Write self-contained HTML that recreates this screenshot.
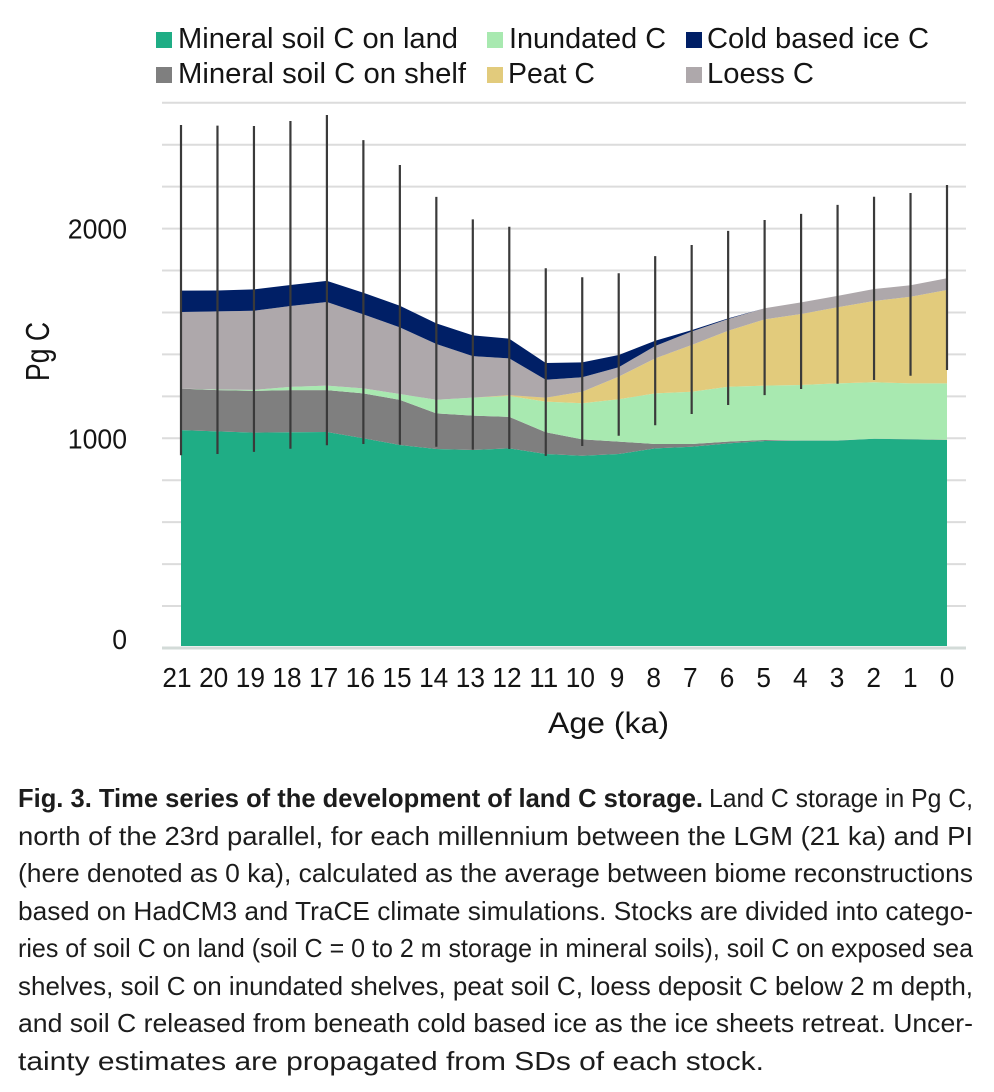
<!DOCTYPE html>
<html lang="en">
<head>
<meta charset="utf-8">
<title>Time series of the development of land C storage</title>
<style>
html,body{margin:0;padding:0;background:#fff;width:994px;height:1092px;overflow:hidden}
svg{display:block}
text{font-family:"Liberation Sans",sans-serif}
.lg{font-size:29px;fill:#141414}
.tick{font-size:28px;fill:#141414}
.axt{font-size:29.5px;fill:#141414}
.cap{font-size:26px;fill:#1c1c1c}
</style>
</head>
<body>
<svg id="chart" width="994" height="1092" viewBox="0 0 994 1092" xmlns="http://www.w3.org/2000/svg">
  <g id="grid"></g>
  <g id="areas"></g>
  <g id="errors"></g>
  <g id="xticks"></g>
  <g id="yticks"></g>

  <text class="axt" x="548" y="733" textLength="121" lengthAdjust="spacingAndGlyphs">Age (ka)</text>
  <text class="axt" style="font-size:33px" transform="translate(49 381) rotate(-90)" textLength="59" lengthAdjust="spacingAndGlyphs">Pg C</text>

  <g>
    <rect x="156" y="32" width="16" height="16" fill="#1fad85"/>
    <text class="lg" x="178" y="48" textLength="280" lengthAdjust="spacingAndGlyphs">Mineral soil C on land</text>
    <rect x="487" y="32" width="16" height="16" fill="#a8e9b0"/>
    <text class="lg" x="509" y="48" textLength="157" lengthAdjust="spacingAndGlyphs">Inundated C</text>
    <rect x="686" y="32" width="16" height="16" fill="#001f66"/>
    <text class="lg" x="707" y="48" textLength="222" lengthAdjust="spacingAndGlyphs">Cold based ice C</text>
    <rect x="156" y="67" width="16" height="16" fill="#7f7f7f"/>
    <text class="lg" x="178" y="83" textLength="288" lengthAdjust="spacingAndGlyphs">Mineral soil C on shelf</text>
    <rect x="487" y="67" width="16" height="16" fill="#e2cb7c"/>
    <text class="lg" x="508" y="83" textLength="87" lengthAdjust="spacingAndGlyphs">Peat C</text>
    <rect x="686" y="67" width="16" height="16" fill="#aea8ab"/>
    <text class="lg" x="707" y="83" textLength="107" lengthAdjust="spacingAndGlyphs">Loess C</text>
  </g>

  <g>
    <text class="cap" x="18" y="807" font-weight="bold" textLength="685" lengthAdjust="spacingAndGlyphs">Fig. 3. Time series of the development of land C storage.</text>
    <text class="cap" x="709" y="807" textLength="264" lengthAdjust="spacingAndGlyphs">Land C storage in Pg C,</text>
    <text class="cap" x="18" y="845" textLength="955" lengthAdjust="spacingAndGlyphs">north of the 23rd parallel, for each millennium between the LGM (21 ka) and PI</text>
    <text class="cap" x="18" y="882" textLength="955" lengthAdjust="spacingAndGlyphs">(here denoted as 0 ka), calculated as the average between biome reconstructions</text>
    <text class="cap" x="18" y="920" textLength="955" lengthAdjust="spacingAndGlyphs">based on HadCM3 and TraCE climate simulations. Stocks are divided into catego-</text>
    <text class="cap" x="18" y="957" textLength="955" lengthAdjust="spacingAndGlyphs">ries of soil C on land (soil C = 0 to 2 m storage in mineral soils), soil C on exposed sea</text>
    <text class="cap" x="18" y="995" textLength="955" lengthAdjust="spacingAndGlyphs">shelves, soil C on inundated shelves, peat soil C, loess deposit C below 2 m depth,</text>
    <text class="cap" x="18" y="1032" textLength="955" lengthAdjust="spacingAndGlyphs">and soil C released from beneath cold based ice as the ice sheets retreat. Uncer-</text>
    <text class="cap" x="18" y="1070" textLength="746" lengthAdjust="spacingAndGlyphs">tainty estimates are propagated from SDs of each stock.</text>
  </g>
</svg>
<script>
var ages = [21,20,19,18,17,16,15,14,13,12,11,10,9,8,7,6,5,4,3,2,1,0];
var mineralSoilLand = [1039,1033,1027,1029,1030,1000,968,949,944,952,925,917,925,952,960,976,987,989,989,998,995,992];
var mineralSoilShelf = [198,197,199,201,200,214,215,170,164,150,104,78,59,21,13,8,5,1,1,0,1,1];
var inundatedC = [0,3,5,15,21,24,28,65,86,100,146,172,202,241,249,262,259,264,272,269,266,269];
var peatC = [0,0,0,0,0,0,0,0,0,4,19,55,108,167,223,267,316,339,363,388,413,445];
var loessC = [365,372,377,386,399,353,318,266,198,175,85,69,45,59,64,56,53,55,54,57,55,56];
var coldBasedIceC = [102,100,102,100,101,103,103,98,99,94,80,71,58,25,7,3,0,0,0,0,0,0];
var errorUpper = [2494,2491,2489,2513,2542,2422,2303,2151,2044,2009,1811,1768,1787,1869,1922,1989,2041,2070,2113,2152,2170,2208];
var errorLower = [919,925,935,950,967,973,969,960,946,949,916,963,1012,1062,1116,1159,1206,1235,1260,1278,1298,1326];
var gridTicks = [0,200,400,600,800,1000,1200,1400,1600,1800,2000,2200,2400,2600];
var yTickLabels = [0,1000,2000];

var NS = 'http://www.w3.org/2000/svg';
function xScale(i){ return 181 + (947 - 181) * i / (ages.length - 1); }
function xLabelScale(i){ return 177 + (947 - 177) * i / (ages.length - 1); }
function yScale(v){ return 648 - v * 0.2097; }
function make(tag, parentId){
  var el = document.createElementNS(NS, tag);
  document.getElementById(parentId).appendChild(el);
  return el;
}

gridTicks.forEach(function(t){
  var l = make('line', 'grid');
  
  
  l.setAttribute('x1', 162);
  l.setAttribute('x2', 966);
  l.setAttribute('y1', yScale(t));
  l.setAttribute('y2', yScale(t));
  l.setAttribute('stroke', t === 0 ? '#d3dbd8' : '#dcdcdc');
  l.setAttribute('stroke-width', t === 0 ? 3 : 2);
});

var stackNames = ['mineral-soil-land','mineral-soil-shelf','inundated','peat','loess','cold-based-ice'];
var stackSeries = [mineralSoilLand, mineralSoilShelf, inundatedC, peatC, loessC, coldBasedIceC];
var stackColors = ['#1fad85','#7f7f7f','#a8e9b0','#e2cb7c','#aea8ab','#001f66'];
var base = ages.map(function(){ return 0; });
stackSeries.forEach(function(series, s){
  var top = series.map(function(v, i){ return base[i] + v; });
  var pts = [];
  top.forEach(function(v, i){ pts.push(xScale(i).toFixed(2) + ',' + yScale(v).toFixed(2)); });
  for (var i = ages.length - 1; i >= 0; i--) {
    pts.push(xScale(i).toFixed(2) + ',' + Math.min(yScale(base[i]), 646).toFixed(2));
  }
  var p = make('polygon', 'areas');
  
  
  p.setAttribute('points', pts.join(' '));
  p.setAttribute('fill', stackColors[s]);
  base = top;
});

ages.forEach(function(a, i){
  var l = make('line', 'errors');
  
  
  l.setAttribute('x1', xScale(i));
  l.setAttribute('x2', xScale(i));
  l.setAttribute('y1', yScale(errorUpper[i]));
  l.setAttribute('y2', yScale(errorLower[i]));
  l.setAttribute('stroke', '#3a3a3a');
  l.setAttribute('stroke-width', 2.2);

  var t = make('text', 'xticks');
  
  
  t.setAttribute('class', 'tick');
  t.setAttribute('x', xLabelScale(i));
  t.setAttribute('y', 687);
  t.setAttribute('text-anchor', 'middle');
  t.setAttribute('textLength', String(a).length * 14.6);
  t.setAttribute('lengthAdjust', 'spacingAndGlyphs');
  t.textContent = a;
});

yTickLabels.forEach(function(v){
  var t = make('text', 'yticks');
  
  
  t.setAttribute('class', 'tick');
  t.setAttribute('x', 127);
  t.setAttribute('y', v === 0 ? yScale(v) + 1 : yScale(v) + 10);
  t.setAttribute('text-anchor', 'end');
  t.setAttribute('textLength', String(v).length * 14.8);
  t.setAttribute('lengthAdjust', 'spacingAndGlyphs');
  t.textContent = v;
});
</script>
</body>
</html>
